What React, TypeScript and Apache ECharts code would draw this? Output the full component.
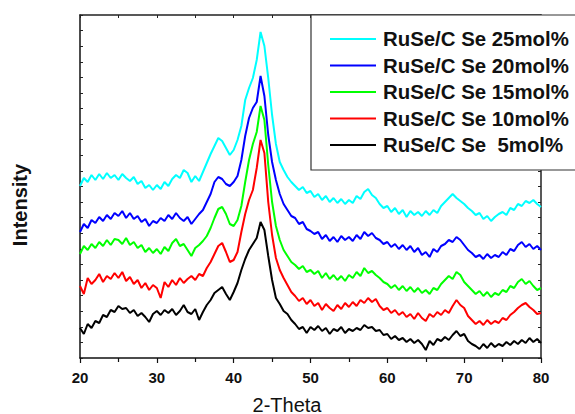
import React, { useEffect, useRef } from "react";
import * as echarts from "echarts";

// 2-Theta sampling: 20 .. 80, step 0.5 (rows of 10 values = 5 degrees)
const thetaStart = 20;
const thetaStep = 0.5;

const seriesNames = [
  "RuSe/C Se 25mol%",
  "RuSe/C Se 20mol%",
  "RuSe/C Se 15mol%",
  "RuSe/C Se 10mol%",
  "RuSe/C Se  5mol%",
];
const seriesColors = ["#00FFFF", "#0000FF", "#00FF00", "#FF0000", "#000000"];

const se25 = [
  172, 180, 176, 183, 178, 184, 179, 185, 180, 183,
  178, 184, 180, 177, 181, 174, 177, 170, 173, 168,
  173, 169, 176, 172, 179, 183, 180, 188, 185, 176,
  182, 177, 186, 195, 204, 212, 220, 217, 210, 203,
  208, 218, 232, 258, 270, 280, 298, 326, 312, 280,
  243, 214, 196, 188, 181, 176, 172, 168, 171, 165,
  167, 161, 164, 158, 162, 156, 160, 155, 159, 154,
  158, 155, 162, 159, 166, 169, 163, 160, 154, 150,
  152, 146, 150, 144, 148, 141, 147, 143, 146, 142,
  147, 143, 148, 145, 152, 156, 160, 164, 160, 157,
  154, 150, 147, 143, 145, 139, 142, 137, 141, 144,
  146, 143, 150, 148, 154, 152, 157, 155, 158, 154,
  151,
];

const se20 = [
  126, 134, 130, 138, 135, 141, 137, 143, 139, 145,
  142, 147, 140, 145, 139, 142, 136, 139, 132, 137,
  135, 140, 137, 143, 139, 145, 140, 137, 141, 134,
  139, 144, 148, 156, 164, 176, 181, 179, 174, 172,
  176, 182, 198, 222, 240, 250, 256, 282, 262, 223,
  196, 178, 164, 154, 148, 142, 140, 134, 136, 129,
  127, 124, 126, 119, 123, 117, 121, 116, 122, 118,
  121, 117, 123, 119, 126, 122, 125, 120, 118, 114,
  116, 111, 114, 109, 113, 108, 112, 106, 110, 103,
  106, 101, 109, 106, 112, 114, 118, 116, 121, 118,
  113, 108, 105, 101, 103, 99, 104, 100, 103, 101,
  106, 103, 109, 107, 113, 116, 111, 114, 109, 112,
  108,
];

const se15 = [
  104, 112, 108, 114, 110, 116, 112, 118, 113, 119,
  118, 114, 120, 113, 116, 110, 113, 106, 110, 105,
  109, 104, 111, 107, 115, 119, 112, 114, 108, 102,
  110, 113, 117, 122, 130, 140, 149, 151, 144, 134,
  132, 138, 152, 176, 198, 214, 226, 252, 238, 193,
  156, 132, 118, 108, 102, 96, 93, 89, 92, 86,
  88, 84, 87, 80, 85, 79, 83, 78, 82, 77,
  83, 80, 86, 82, 90, 85, 87, 83, 80, 76,
  74, 70, 73, 68, 72, 67, 71, 66, 70, 65,
  68, 64, 70, 68, 74, 78, 82, 79, 86, 83,
  76, 72, 68, 64, 67, 62, 66, 61, 65, 63,
  68, 66, 72, 70, 76, 79, 74, 77, 72, 68,
  70,
];

const se10 = [
  72, 64, 80, 74, 78, 84, 76, 82, 79, 85,
  80, 86, 77, 81, 74, 78, 70, 75, 68, 73,
  70, 60, 76, 71, 78, 73, 80, 75, 79, 82,
  78, 84, 82, 90, 96, 104, 112, 115, 106, 96,
  98, 106, 126, 144, 158, 168, 190, 218, 205, 156,
  123, 100, 88, 80, 73, 66, 62, 57, 60, 54,
  58, 52, 55, 48, 54, 50, 47, 53, 49, 55,
  51, 56, 52, 58, 55, 60, 56, 59, 52, 48,
  50, 45, 48, 43, 46, 41, 44, 39, 45, 40,
  37, 44, 41, 46, 43, 48, 45, 52, 58, 53,
  50, 42, 38, 34, 37, 33, 38, 34, 37, 35,
  40, 38, 43, 46, 50, 53, 55, 51, 48, 44,
  45,
];

const se5 = [
  30, 24, 34, 30, 37, 35, 43, 41, 48, 46,
  52, 49, 50, 45, 48, 42, 45, 41, 36, 44,
  47, 43, 48, 45, 49, 43, 47, 53, 46, 44,
  49, 38, 46, 53, 58, 65, 68, 71, 64, 58,
  66, 75, 88, 99, 108, 114, 120, 136, 128, 102,
  78, 60, 54, 47, 44, 38, 34, 29, 31, 25,
  31, 28, 32, 27, 30, 24, 29, 27, 31, 25,
  29, 27, 30, 28, 33, 30, 31, 27, 28, 23,
  24, 19, 22, 18, 20, 16, 19, 15, 18, 14,
  8, 17, 13, 19, 17, 21, 18, 23, 27, 22,
  24, 17, 14, 12, 9, 14, 10, 15, 11, 14,
  12, 16, 13, 17, 14, 18, 15, 20, 16, 19,
  15,
];

const seriesValues = [se25, se20, se15, se10, se5];
const xTickLabels = ["20", "30", "40", "50", "60", "70", "80"];

const yMax = 343;
const yInterval = yMax / 22;

export default function App() {
  const ref = useRef<HTMLDivElement>(null);

  useEffect(() => {
    if (!ref.current) return;
    const chart = echarts.init(ref.current, null, { renderer: "svg" });
    const font = "'Liberation Sans', Arial, Helvetica, sans-serif";

    const series = seriesValues.map((vals, si) => ({
      name: seriesNames[si],
      type: "line",
      xAxisIndex: 0,
      yAxisIndex: 0,
      symbol: "none",
      showSymbol: false,
      data: vals.map((v, i) => [thetaStart + i * thetaStep, v]),
      lineStyle: { color: seriesColors[si], width: 2 },
      itemStyle: { color: seriesColors[si] },
      z: 2 + si,
    }));

    chart.setOption({
      animation: false,
      backgroundColor: "#ffffff",
      grid: { left: 80, right: 34, top: 15, bottom: 56, containLabel: false },
      xAxis: [
        {
          type: "value",
          position: "bottom",
          min: 20,
          max: 80,
          interval: 10,
          axisLine: { show: true, onZero: false, lineStyle: { color: "#111", width: 1.5 } },
          axisTick: { show: true, inside: false, length: 5, lineStyle: { color: "#111", width: 1.2 } },
          minorTick: { show: true, splitNumber: 2, length: 4, lineStyle: { color: "#111", width: 1.2 } },
          splitLine: { show: false },
          axisLabel: {
            show: true,
            margin: 12,
            fontSize: 15,
            fontWeight: "bold",
            color: "#111",
            fontFamily: font,
            formatter: (v: number) => {
              const s = String(v);
              return xTickLabels.indexOf(s) >= 0 ? s : "";
            },
          },
        },
        {
          type: "value",
          position: "top",
          min: 20,
          max: 80,
          interval: 5,
          axisLine: { show: true, onZero: false, lineStyle: { color: "#222", width: 1.5 } },
          axisTick: { show: true, inside: true, length: 3, lineStyle: { color: "#222", width: 1 } },
          splitLine: { show: false },
          axisLabel: { show: false },
        },
      ],
      yAxis: [
        {
          type: "value",
          position: "left",
          min: 0,
          max: yMax,
          interval: yInterval,
          axisLine: { show: true, onZero: false, lineStyle: { color: "#111", width: 1.5 } },
          axisTick: { show: true, inside: true, length: 3, lineStyle: { color: "#222", width: 1 } },
          splitLine: { show: false },
          axisLabel: { show: false },
        },
        {
          type: "value",
          position: "right",
          min: 0,
          max: yMax,
          interval: yInterval,
          axisLine: { show: true, onZero: false, lineStyle: { color: "#222", width: 1.5 } },
          axisTick: { show: true, inside: true, length: 3, lineStyle: { color: "#222", width: 1 } },
          splitLine: { show: false },
          axisLabel: { show: false },
        },
      ],
      legend: {
        show: true,
        orient: "vertical",
        left: 311,
        top: 15,
        data: seriesNames,
        icon: "rect",
        itemWidth: 46,
        itemHeight: 2,
        itemGap: 6.5,
        padding: [14, 12, 15, 19],
        borderColor: "#333",
        borderWidth: 1.2,
        backgroundColor: "#ffffff",
        selectedMode: false,
        textStyle: {
          fontSize: 20.4,
          fontWeight: "bold",
          color: "#111",
          fontFamily: font,
          lineHeight: 20,
          padding: [0, 0, 0, 2],
        },
      },
      graphic: [
        {
          type: "text",
          x: 287,
          y: 404.5,
          style: {
            text: "2-Theta",
            fontSize: 20,
            fontFamily: font,
            fill: "#111",
            textAlign: "center",
            textVerticalAlign: "middle",
          },
        },
        {
          type: "text",
          x: 20,
          y: 205,
          rotation: Math.PI / 2,
          style: {
            text: "Intensity",
            fontSize: 20,
            fontWeight: "bold",
            fontFamily: font,
            fill: "#111",
            textAlign: "center",
            textVerticalAlign: "middle",
          },
        },
      ],
      series,
    });

    return () => {
      chart.dispose();
    };
  }, []);

  return (
    <div
      ref={ref}
      style={{ position: "fixed", left: 0, top: 0, width: 575, height: 414, background: "#fff" }}
    />
  );
}
